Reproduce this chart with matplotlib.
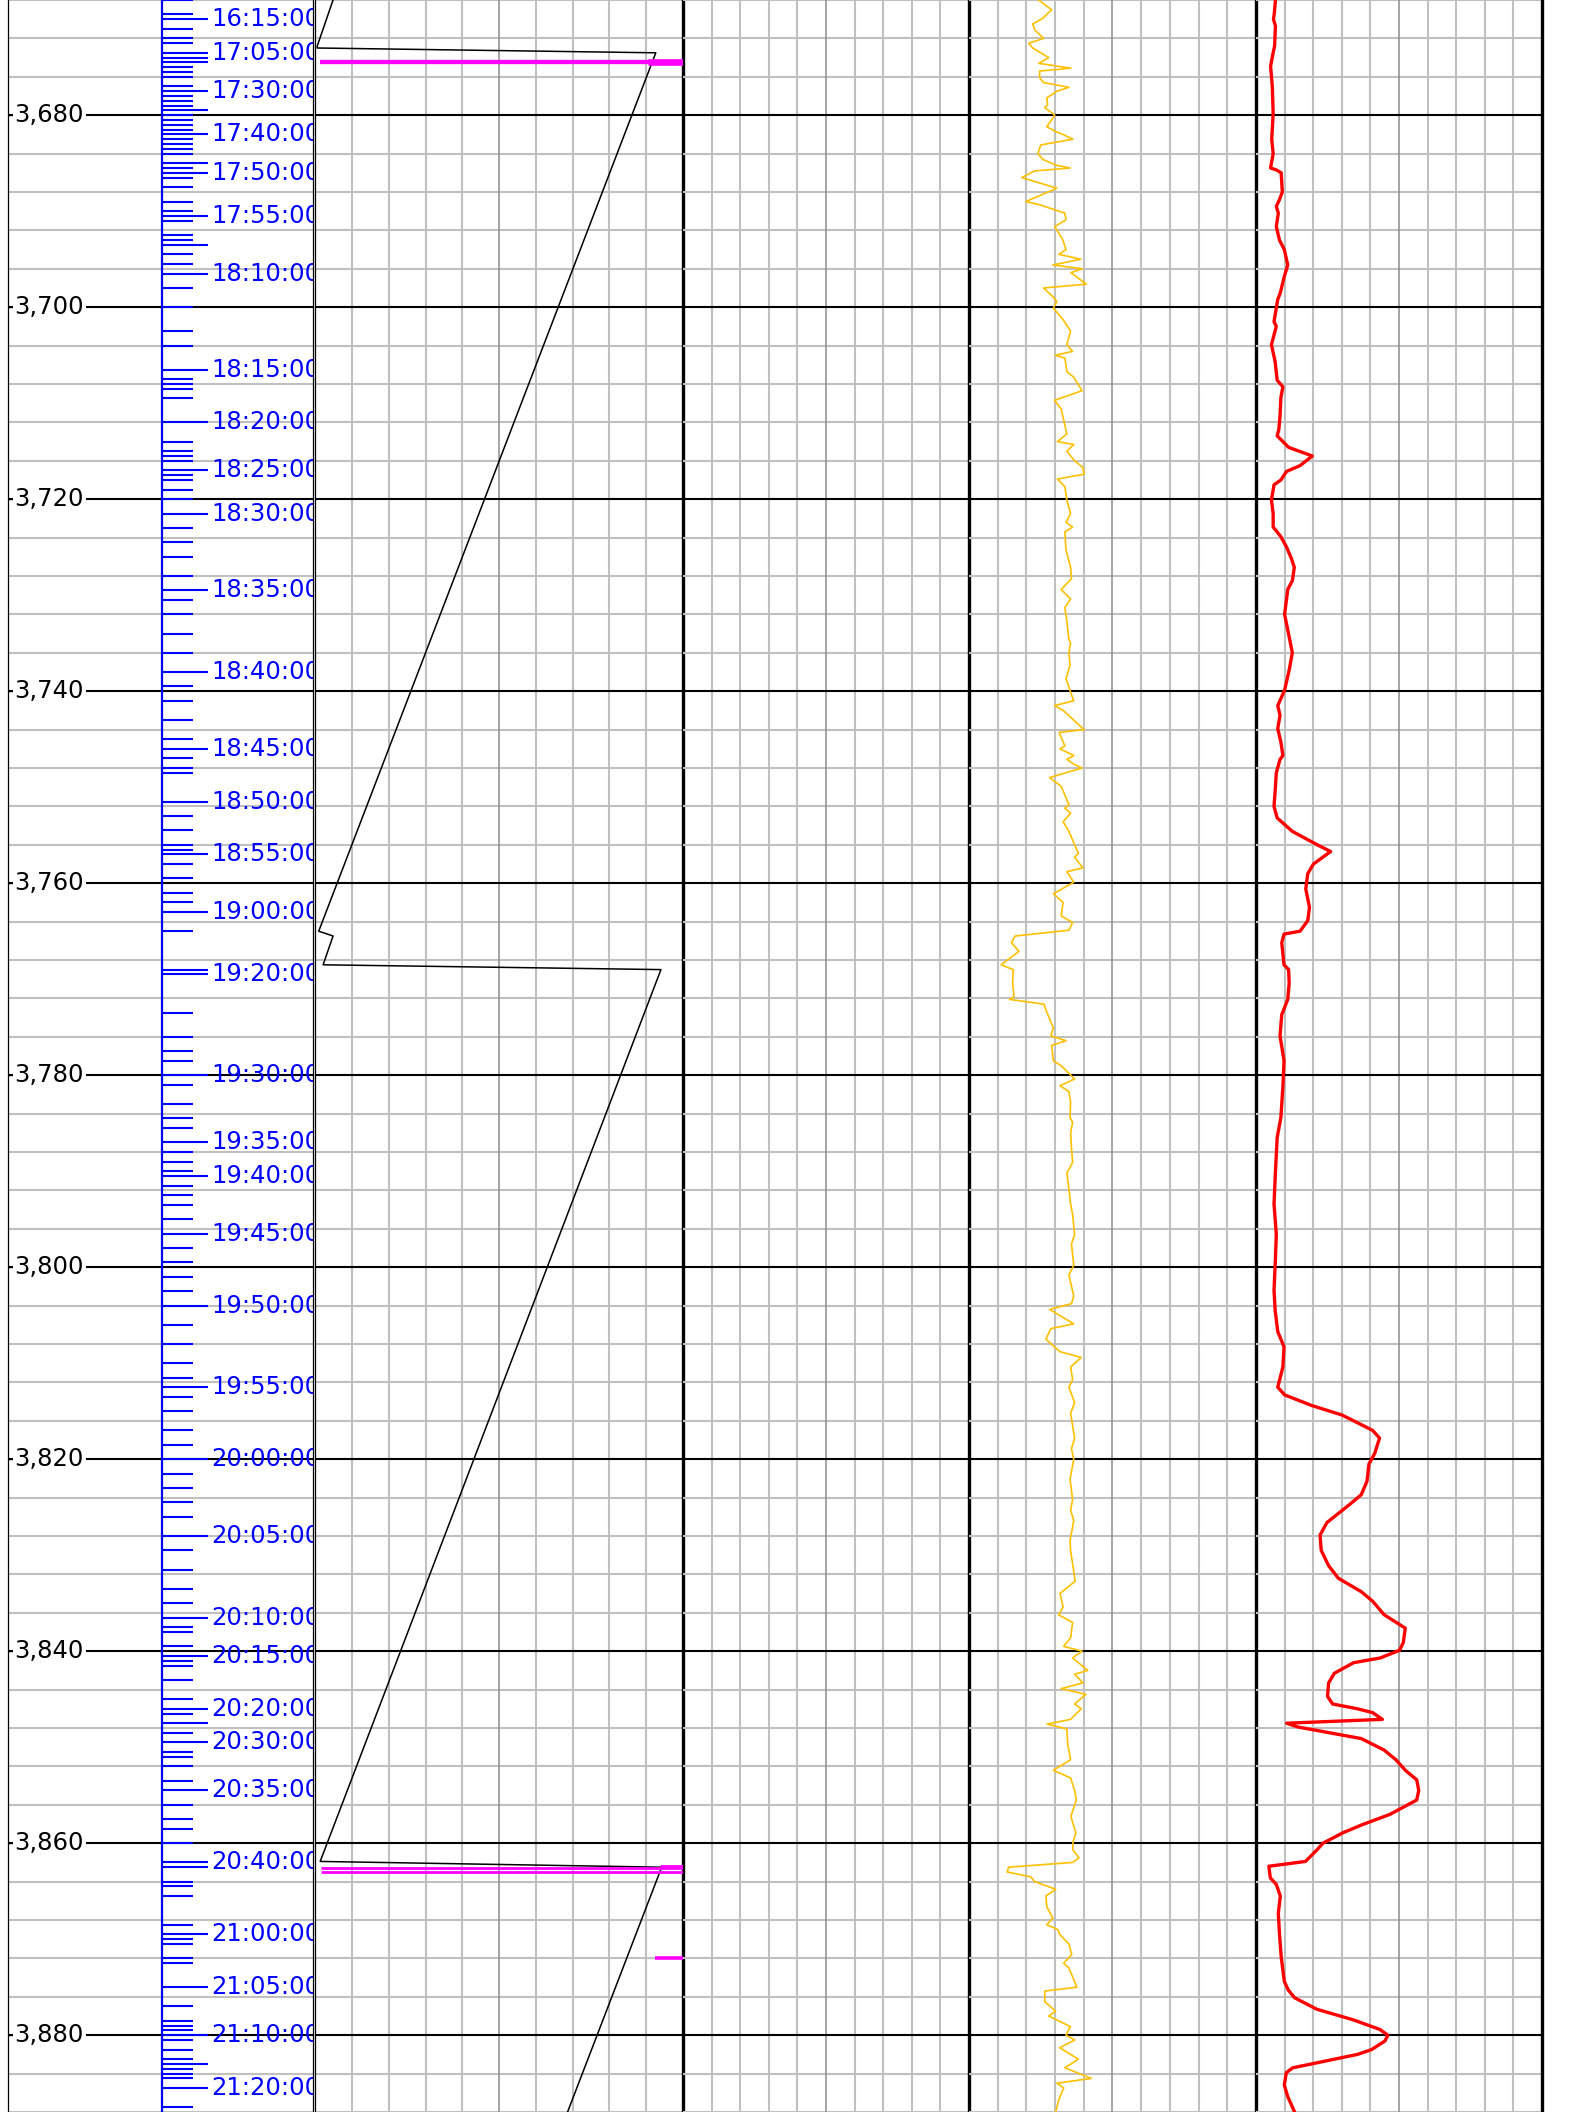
import matplotlib.pyplot as plt

W, H = 1588, 2112
TOP, BASE = 3668, 3888

# depth labels on the left
depth_major = [3680, 3700, 3720, 3740, 3760, 3780, 3800, 3820, 3840, 3860, 3880]

# time stamps along the blue time axis (depth in m)
label_depth = [3670.0, 3673.5, 3677.5, 3682.0, 3686.0, 3690.5, 3696.5, 3706.5, 3712.0,
               3717.0, 3721.5, 3729.5, 3738.0, 3746.0, 3751.5, 3757.0, 3763.0, 3769.5,
               3780.0, 3787.0, 3790.5, 3796.5, 3804.0, 3812.5, 3820.0, 3828.0, 3836.5,
               3840.5, 3846.0, 3849.5, 3854.5, 3862.0, 3869.5, 3875.0, 3880.0, 3885.5]
label_time = ['16:15:00', '17:05:00', '17:30:00', '17:40:00', '17:50:00', '17:55:00',
              '18:10:00', '18:15:00', '18:20:00', '18:25:00', '18:30:00', '18:35:00',
              '18:40:00', '18:45:00', '18:50:00', '18:55:00', '19:00:00', '19:20:00',
              '19:30:00', '19:35:00', '19:40:00', '19:45:00', '19:50:00', '19:55:00',
              '20:00:00', '20:05:00', '20:10:00', '20:15:00', '20:20:00', '20:30:00',
              '20:35:00', '20:40:00', '21:00:00', '21:05:00', '21:10:00', '21:20:00']
long_depth = [3674.0, 3674.5, 3679.5, 3685.0, 3693.5, 3769.0, 3847.5, 3862.5, 3883.0]
stamp_depth = [3668.0, 3669.5, 3671.0, 3672.0, 3672.5, 3675.0, 3675.5, 3676.0, 3677.0,
               3678.0, 3678.5, 3679.0, 3680.0, 3680.5, 3681.0, 3681.5, 3682.5, 3683.0,
               3683.5, 3684.0, 3685.5, 3686.5, 3687.5, 3689.0, 3690.0, 3691.0, 3692.5,
               3693.0, 3694.5, 3695.5, 3698.0, 3700.0, 3702.5, 3704.0, 3707.5, 3708.0,
               3708.5, 3709.5, 3714.0, 3715.0, 3715.5, 3716.0, 3717.5, 3718.0, 3719.0,
               3720.0, 3723.0, 3724.5, 3726.0, 3728.0, 3730.5, 3732.0, 3734.0, 3736.0,
               3739.5, 3741.0, 3743.0, 3745.0, 3747.0, 3748.0, 3748.5, 3753.0, 3754.5,
               3756.0, 3756.5, 3758.0, 3759.5, 3761.0, 3762.0, 3765.0, 3773.5, 3776.0,
               3777.5, 3778.5, 3781.0, 3783.0, 3784.5, 3785.5, 3788.0, 3789.0, 3790.0,
               3791.5, 3792.5, 3793.5, 3795.0, 3798.0, 3799.5, 3801.0, 3802.5, 3806.0,
               3808.0, 3810.0, 3811.5, 3813.5, 3815.0, 3817.0, 3818.5, 3821.5, 3823.0,
               3824.5, 3826.0, 3829.5, 3831.5, 3833.5, 3835.0, 3837.5, 3838.0, 3839.5,
               3841.0, 3841.5, 3843.0, 3845.0, 3846.5, 3848.5, 3850.5, 3851.0, 3852.0,
               3853.5, 3856.0, 3857.5, 3858.5, 3860.0, 3864.0, 3864.5, 3865.5, 3868.5,
               3870.0, 3870.5, 3872.0, 3872.5, 3877.0, 3878.5, 3879.0, 3879.5, 3880.5,
               3881.5, 3882.5, 3883.5, 3884.0, 3884.5, 3887.5]

# track 1: black saw-tooth curve (0-100)
saw_depth = [3668.0, 3672.8, 3673.0, 3673.5, 3765.0, 3765.5, 3768.5, 3769.0, 3861.9, 3862.5, 3888.0]
saw_value = [4.8, 0.5, 0.5, 92.6, 0.9, 4.8, 2.1, 94.0, 1.3, 94.2, 68.6]

# track 1: magenta marks (depth, from, to, width)
mark_depth = [3674.5, 3674.45, 3862.6, 3863.05, 3862.35, 3872.0]
mark_from = [1.2, 90.5, 1.5, 1.5, 93.8, 92.4]
mark_to = [100, 100, 100, 100, 100, 100]
mark_lw = [3.1, 4.8, 2.0, 2.0, 2.0, 2.6]

# track 3: yellow curve (0-10)
yel_depth = [3668.0, 3668.5, 3669.0, 3669.5, 3669.9, 3670.5, 3671.1, 3672.0, 3672.5, 3673.0,
             3673.5, 3674.0, 3674.6, 3675.1, 3675.4, 3676.1, 3676.6, 3677.1, 3677.5, 3678.2,
             3678.9, 3679.2, 3680.0, 3681.2, 3681.7, 3682.0, 3682.5, 3683.1, 3684.0, 3684.6,
             3685.2, 3685.5, 3685.8, 3686.5, 3687.6, 3689.0, 3689.3, 3690.2, 3690.9, 3691.6,
             3693.0, 3694.0, 3694.5, 3695.0, 3695.6, 3696.0, 3696.4, 3697.6, 3698.0, 3698.9,
             3699.4, 3700.1, 3701.3, 3702.5, 3703.9, 3704.6, 3705.0, 3705.3, 3706.7, 3707.3,
             3708.7, 3709.7, 3710.6, 3711.5, 3713.2, 3714.0, 3714.3, 3715.0, 3716.0, 3716.7,
             3717.4, 3717.9, 3718.7, 3720.1, 3721.5, 3722.4, 3722.9, 3723.4, 3725.3, 3727.1,
             3728.3, 3729.4, 3730.4, 3731.3, 3732.7, 3734.6, 3735.0, 3736.0, 3737.3, 3738.7,
             3740.1, 3741.0, 3741.5, 3742.0, 3744.0, 3744.3, 3745.7, 3746.0, 3746.7, 3747.1,
             3747.6, 3748.0, 3749.0, 3749.9, 3751.8, 3752.2, 3752.7, 3753.6, 3754.6, 3756.0,
             3756.9, 3757.3, 3758.4, 3758.8, 3759.9, 3761.1, 3762.0, 3763.4, 3764.1, 3764.9,
             3765.5, 3766.2, 3767.1, 3768.5, 3769.0, 3770.4, 3771.8, 3772.1, 3772.6, 3773.5,
             3775.1, 3775.9, 3776.4, 3776.9, 3778.5, 3779.0, 3780.4, 3781.1, 3781.7, 3782.8,
             3784.4, 3784.9, 3786.0, 3787.5, 3789.1, 3790.2, 3791.8, 3793.4, 3794.5, 3796.6,
             3797.6, 3799.8, 3800.8, 3803.0, 3803.8, 3804.4, 3805.9, 3806.4, 3807.5, 3808.8,
             3809.4, 3810.4, 3811.7, 3812.5, 3814.1, 3815.2, 3817.8, 3818.9, 3820.0, 3822.1,
             3824.2, 3825.3, 3826.4, 3828.5, 3829.5, 3832.7, 3834.0, 3835.4, 3836.2, 3837.0,
             3838.6, 3839.5, 3840.0, 3840.7, 3842.0, 3842.4, 3843.3, 3843.9, 3844.5, 3845.5,
             3846.0, 3847.1, 3847.6, 3848.1, 3849.7, 3851.3, 3852.4, 3853.2, 3854.5, 3855.5,
             3857.2, 3858.9, 3860.0, 3860.7, 3861.5, 3862.0, 3862.5, 3863.0, 3863.5, 3864.0,
             3864.8, 3865.5, 3866.6, 3867.8, 3868.5, 3869.0, 3869.5, 3870.5, 3871.6, 3872.5,
             3873.0, 3875.0, 3875.4, 3876.5, 3877.5, 3878.0, 3879.1, 3880.0, 3880.5, 3881.3,
             3882.5, 3883.4, 3884.5, 3885.0, 3885.5, 3886.7, 3888.0]
yel_value = [2.43, 2.64, 2.88, 2.71, 2.57, 2.22, 2.29, 2.60, 2.08, 2.22,
             2.50, 2.78, 2.43, 3.55, 2.46, 2.46, 2.60, 3.48, 3.06, 2.71,
             2.74, 2.64, 2.99, 2.71, 3.02, 3.27, 3.62, 2.50, 2.40, 2.57,
             3.02, 3.53, 2.29, 1.84, 3.06, 1.98, 2.43, 3.34, 3.38, 2.99,
             3.27, 3.38, 3.13, 3.90, 2.92, 3.95, 3.55, 4.09, 2.60, 2.92,
             3.06, 2.94, 3.28, 3.54, 3.41, 3.61, 3.01, 3.34, 3.41, 3.65,
             3.94, 2.98, 3.21, 3.28, 3.41, 3.08, 3.65, 3.41, 3.68, 3.97,
             4.01, 3.08, 3.34, 3.41, 3.54, 3.38, 3.61, 3.34, 3.38, 3.54,
             3.57, 3.21, 3.54, 3.34, 3.41, 3.48, 3.54, 3.48, 3.52, 3.38,
             3.54, 3.65, 2.98, 3.28, 4.01, 3.14, 3.34, 3.17, 3.65, 3.41,
             3.65, 3.94, 2.81, 3.21, 3.48, 3.34, 3.54, 3.28, 3.48, 3.68,
             3.81, 3.68, 3.97, 3.41, 3.65, 2.94, 3.28, 3.21, 3.61, 3.48,
             1.61, 1.48, 1.74, 1.12, 1.54, 1.52, 1.57, 1.41, 2.61, 2.72,
             2.94, 2.85, 3.38, 2.88, 2.94, 3.21, 3.68, 3.17, 3.48, 3.54,
             3.52, 3.61, 3.54, 3.57, 3.61, 3.41, 3.48, 3.54, 3.61, 3.68,
             3.57, 3.65, 3.48, 3.65, 3.57, 2.81, 3.65, 2.85, 2.68, 3.17,
             3.91, 3.54, 3.61, 3.48, 3.68, 3.54, 3.68, 3.57, 3.65, 3.52,
             3.61, 3.54, 3.65, 3.52, 3.54, 3.70, 3.17, 3.28, 3.12, 3.61,
             3.54, 3.30, 3.94, 3.61, 4.14, 3.68, 3.97, 3.21, 4.07, 3.68,
             3.91, 3.54, 2.72, 3.41, 3.44, 3.54, 2.94, 3.54, 3.68, 3.74,
             3.55, 3.72, 3.62, 3.62, 3.83, 3.62, 1.38, 1.33, 2.15, 2.29,
             3.02, 2.68, 2.71, 2.92, 2.71, 3.10, 3.16, 3.48, 3.58, 3.30,
             3.48, 3.76, 2.64, 2.64, 3.02, 2.78, 3.53, 3.38, 3.69, 3.16,
             3.81, 3.34, 4.26, 3.06, 3.30, 3.13, 3.02]

# track 4: red curve (0-10)
red_depth = [3668.0, 3669.4, 3670.0, 3670.7, 3672.8, 3673.5, 3674.9, 3677.0, 3679.8, 3682.5,
             3684.0, 3685.5, 3685.7, 3686.0, 3688.0, 3688.8, 3689.5, 3690.2, 3691.6, 3693.0,
             3694.0, 3695.6, 3696.8, 3698.5, 3699.2, 3701.5, 3702.0, 3703.9, 3705.7, 3707.6,
             3708.3, 3709.4, 3711.3, 3712.7, 3713.4, 3714.6, 3715.5, 3716.5, 3717.1, 3718.0,
             3718.5, 3720.1, 3721.5, 3722.9, 3723.9, 3725.0, 3726.2, 3727.1, 3728.5, 3729.4,
             3731.3, 3732.0, 3733.6, 3736.0, 3737.8, 3739.9, 3741.5, 3742.5, 3743.9, 3745.3,
             3746.7, 3747.1, 3748.5, 3750.4, 3752.0, 3753.2, 3754.6, 3756.0, 3756.7, 3758.0,
             3759.0, 3760.6, 3762.5, 3763.9, 3765.0, 3765.3, 3766.2, 3768.5, 3769.0, 3770.4,
             3772.1, 3773.7, 3775.9, 3778.5, 3781.2, 3784.4, 3786.5, 3790.7, 3793.4, 3796.6,
             3799.8, 3802.4, 3804.5, 3806.7, 3808.3, 3810.4, 3812.5, 3813.3, 3814.4, 3815.4,
             3817.0, 3817.8, 3819.4, 3820.5, 3822.3, 3823.7, 3824.7, 3826.6, 3827.9, 3829.5,
             3831.1, 3832.4, 3833.8, 3834.8, 3836.2, 3837.6, 3839.1, 3839.9, 3840.7, 3841.2,
             3842.3, 3843.3, 3844.7, 3845.5, 3846.0, 3846.4, 3847.1, 3847.5, 3847.9, 3849.1,
             3850.3, 3851.3, 3852.4, 3853.4, 3854.5, 3855.5, 3857.0, 3858.1, 3858.9, 3860.0,
             3860.7, 3861.9, 3862.4, 3863.6, 3864.3, 3865.5, 3867.3, 3869.4, 3871.8, 3874.4,
             3875.3, 3876.1, 3877.3, 3878.4, 3879.4, 3880.0, 3880.6, 3881.5, 3882.0, 3883.4,
             3883.9, 3885.2, 3886.4, 3888.0]
red_value = [0.68, 0.64, 0.61, 0.68, 0.65, 0.60, 0.51, 0.57, 0.60, 0.55,
             0.60, 0.51, 0.71, 0.88, 0.92, 0.82, 0.71, 0.78, 0.71, 0.82,
             0.99, 1.11, 0.99, 0.85, 0.76, 0.63, 0.71, 0.54, 0.67, 0.74,
             0.94, 0.87, 0.84, 0.80, 0.74, 1.14, 1.97, 1.54, 1.07, 0.87,
             0.63, 0.54, 0.60, 0.60, 0.87, 1.07, 1.24, 1.34, 1.27, 1.11,
             1.03, 1.00, 1.11, 1.27, 1.16, 1.00, 0.76, 0.84, 0.76, 0.87,
             0.94, 0.84, 0.71, 0.67, 0.63, 0.74, 1.27, 2.14, 2.61, 2.01,
             1.81, 1.74, 1.87, 1.81, 1.54, 0.98, 0.90, 0.98, 1.14, 1.16,
             1.11, 0.90, 0.84, 0.98, 0.94, 0.87, 0.74, 0.67, 0.63, 0.71,
             0.67, 0.63, 0.67, 0.76, 0.98, 0.94, 0.76, 1.00, 1.94, 3.01,
             4.08, 4.32, 4.15, 3.95, 3.88, 3.68, 3.28, 2.48, 2.24, 2.28,
             2.54, 2.88, 3.68, 4.08, 4.48, 5.22, 5.15, 5.02, 4.35, 3.41,
             2.74, 2.54, 2.50, 2.68, 3.55, 4.08, 4.42, 1.07, 1.47, 3.68,
             4.48, 4.89, 5.22, 5.62, 5.69, 5.62, 4.68, 3.69, 3.05, 2.34,
             2.13, 1.73, 0.45, 0.50, 0.71, 0.85, 0.78, 0.82, 0.88, 0.99,
             1.13, 1.35, 2.13, 3.40, 4.33, 4.61, 4.51, 4.04, 3.55, 1.28,
             1.06, 0.99, 1.11, 1.35]

GRAY = '#c0c0c0'
MID = '#8c8c8c'

fig = plt.figure(figsize=(W / 100, H / 100), dpi=100)


def box(x0, x1):
    return [x0 / W, 0, (x1 - x0) / W, 1]


def hgrid(ax):
    for d in range(TOP, BASE + 1, 4):
        if d % 20 == 0:
            ax.axhline(d, color='black', lw=1.5, zorder=1)
        else:
            ax.axhline(d, color=GRAY, lw=1.5, zorder=0.5)


# left column: depth labels and time axis
ax0 = fig.add_axes(box(8, 313.2))
ax0.set_xlim(8, 313.2)
ax0.set_ylim(BASE, TOP)
hgrid(ax0)
for s in ['top', 'bottom']:
    ax0.spines[s].set_visible(False)
ax0.spines['left'].set_linewidth(0.9)
ax0.spines['right'].set_linewidth(0.9)
ax0.set_xticks([])
ax0.set_yticks(depth_major)
ax0.tick_params(axis='y', direction='in', length=3.6, width=1, labelleft=False)
for d in depth_major:
    ax0.text(14.5, d, f'{d:,}', ha='left', va='center', fontsize=17.5, color='black',
             zorder=3, bbox=dict(boxstyle='square,pad=0.08', fc='white', ec='none'))

ax0.axvline(162, color='blue', lw=1.6, zorder=4)
ax0.hlines(stamp_depth, 162, 193, colors='blue', lw=1.5, zorder=4)
ax0.hlines(long_depth + label_depth, 162, 208, colors='blue', lw=1.5, zorder=4)
for d, t in zip(label_depth, label_time):
    ax0.text(211, d, t, ha='left', va='center', fontsize=17.5, color='blue',
             clip_on=True, zorder=4)

# tracks
edges = [(315.4, 683), (683, 969), (969, 1256), (1256, 1542)]
limits = [(0, 100), (0, 10), (0, 10), (0, 10)]
tracks = []
for i, ((x0, x1), (lo, hi)) in enumerate(zip(edges, limits)):
    ax = fig.add_axes(box(x0, x1))
    ax.set_xlim(lo, hi)
    ax.set_ylim(BASE, TOP)
    ax.set_xticks([])
    ax.set_yticks([])
    ax.patch.set_alpha(0)
    hgrid(ax)
    for k in range(1, 10):
        xv = lo + k * (hi - lo) / 10
        if k == 5:
            ax.axvline(xv, color=MID, lw=1.1, zorder=0.6)
        else:
            ax.axvline(xv, color=GRAY, lw=1.5, zorder=0.5)
    ax.spines['top'].set_visible(False)
    ax.spines['bottom'].set_visible(False)
    ax.spines['right'].set_linewidth(2.4)
    if i == 0:
        ax.spines['left'].set_linewidth(0.9)
    else:
        ax.spines['left'].set_visible(False)
    tracks.append(ax)

t1, t2, t3, t4 = tracks
t1.plot(saw_value, saw_depth, color='black', lw=1.1, zorder=3)
for d, a, b, w in zip(mark_depth, mark_from, mark_to, mark_lw):
    t1.plot([a, b], [d, d], color='#ff00ff', lw=w, solid_capstyle='butt', zorder=4)

t3.plot(yel_value, yel_depth, color='#ffc000', lw=1.2, zorder=3)
t4.plot(red_value, red_depth, color='#ff0000', lw=2.4, zorder=3)

fig.savefig('out.png', dpi=100)
